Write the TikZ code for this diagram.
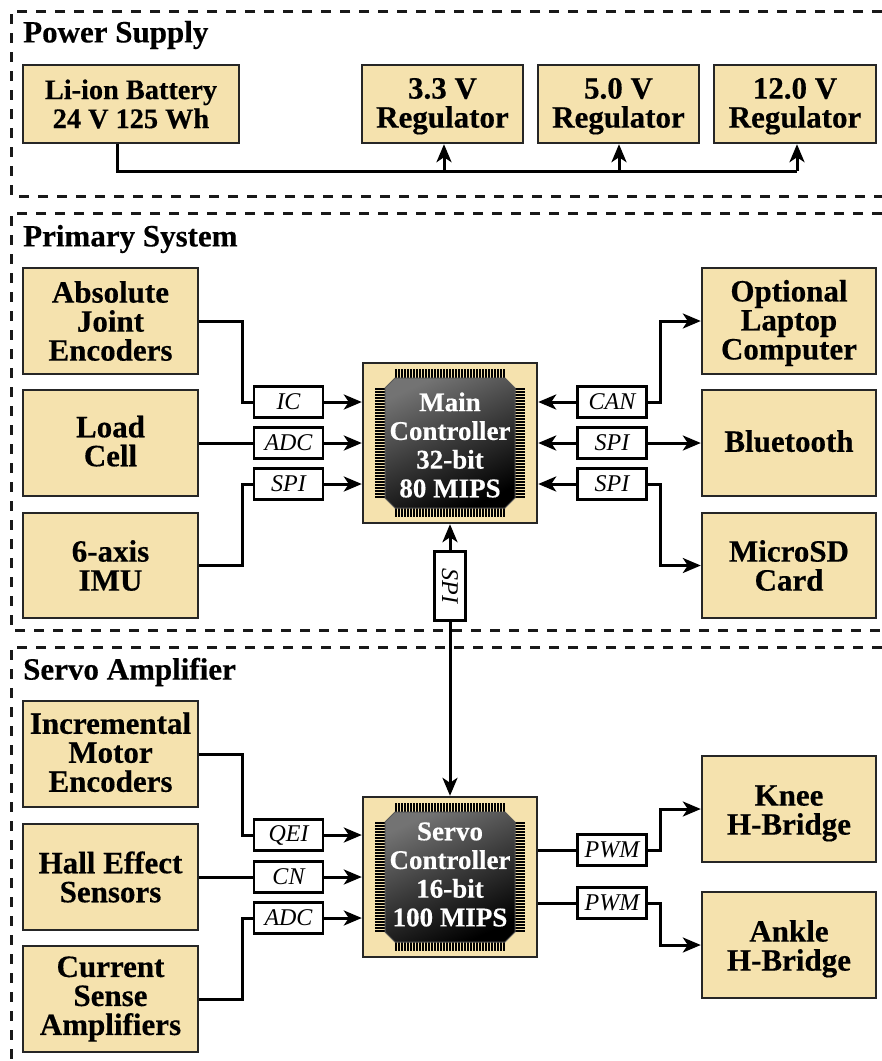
\documentclass[tikz,border=0pt]{standalone}
\usepackage{fontspec}
\setmainfont[BoldFeatures={FakeBold=0.4}]{Liberation Serif}
\usetikzlibrary{arrows.meta,calc}
\definecolor{tan}{HTML}{F5E2AE}
\definecolor{pin}{HTML}{A5A396}
\newcommand{\toppad}[1]{\rule{0pt}{#1pt}}
\newcommand{\botpad}{\rule[-4pt]{0pt}{4pt}}
\tikzset{
  x=1pt,y=-1pt,
  frameline/.style={line width=3pt,dash pattern=on 10pt off 9pt,black!90},
  title/.style={anchor=west,inner sep=0pt,font=\fontsize{31}{32}\selectfont\bfseries},
  box/.style={draw=black!85,line width=2.4pt,fill=tan,inner sep=0pt,align=center,font=\fontsize{31}{29}\selectfont\bfseries},
  batbox/.style={box,font=\fontsize{28.3}{29}\selectfont\bfseries},
  tag/.style={draw=black,line width=2.4pt,fill=white,inner sep=0pt,minimum width=69pt,minimum height=31pt,font=\fontsize{24}{26}\selectfont\itshape},
  wire/.style={line width=3pt,black,line join=miter},
  arr/.style={wire,-{Stealth[length=18pt,width=15pt,inset=5pt]}},
  biarr/.style={wire,{Stealth[length=18pt,width=15pt,inset=5pt]}-{Stealth[length=18pt,width=15pt,inset=5pt]}},
  chiptext/.style={align=center,inner sep=0pt,text=white,font=\fontsize{27}{28.7}\selectfont\bfseries},
  pinsh/.style={pin,line width=9.5pt,dash pattern=on 1.7pt off 1.3pt},
}
% #1 name, #2 centre x, #3 centre y, #4 text, #5 text centre y
\newcommand{\chipblock}[5]{%
  \node[box,minimum width=174pt,minimum height=160pt] (#1) at (#2,#3) {};
  \begin{scope}[shift={(#2,#3)}]
    \draw[pinsh] (-55,-69.5) -- (55,-69.5);
    \draw[pinsh] (-55,69.5) -- (55,69.5);
    \draw[pinsh] (-70,-55) -- (-70,55);
    \draw[pinsh] (70,-55) -- (70,55);
    \begin{scope}
      \clip (-55,-65) -- (55,-65) -- (65,-55) -- (65,55) -- (55,65) -- (-55,65) -- (-65,55) -- (-65,-55) -- cycle;
      \shade[shading=axis,top color=black!55,bottom color=black,middle color=black!78,shading angle=25] (-66,-66) rectangle (66,66);
    \end{scope}
    \draw[black!65,line width=1pt] (-55,-65) -- (55,-65) -- (65,-55) -- (65,55) -- (55,65) -- (-55,65) -- (-65,55) -- (-65,-55) -- cycle;
  \end{scope}
  \node[chiptext] (#1txt) at (#2,#5) {#4};
}
\begin{document}
\begin{tikzpicture}
\useasboundingbox (0,0) rectangle (882,1061);
\fill[white] (0,0) rectangle (882,1061);
% frames
\draw[frameline] (882,11) -- (11,11) -- (11,196) -- (882,196);
\draw[frameline] (882,213) -- (11,213) -- (11,630) -- (882,630);
\draw[frameline] (882,647) -- (11,647) -- (11,1061);
\node[title] (t1) at (23,35) {Power Supply};
\node[title] (t2) at (23,239) {Primary System};
\node[title] (t3) at (23,672) {Servo Amplifier};
% power supply
\node[batbox,minimum width=216pt,minimum height=78pt] (bat) at (131,104) {Li-ion Battery\\24 V 125 Wh};
\node[box,minimum width=161pt,minimum height=78pt] (r3) at (442.5,104) {\toppad{25}3.3 V\\Regulator};
\node[box,minimum width=161pt,minimum height=78pt] (r5) at (618.5,104) {\toppad{25}5.0 V\\Regulator};
\node[box,minimum width=162pt,minimum height=78pt] (r12) at (795,104) {\toppad{25}12.0 V\\Regulator};
\coordinate (busL) at (117,171);
\coordinate (bus3) at (444,171);
\coordinate (bus5) at (619,171);
\coordinate (bus12) at (797,171);
\draw[wire] (busL |- bat.south) -- (busL) -- (bus12);
\draw[arr] (bus3) -- (bus3 |- r3.south);
\draw[arr] (bus5) -- (bus5 |- r5.south);
\draw[arr] (bus12) -- (bus12 |- r12.south);
% primary
\node[box,minimum width=175pt,minimum height=106pt] (abs) at (110.5,321) {Absolute\\Joint\\Encoders};
\node[box,minimum width=175pt,minimum height=106pt] (load) at (110.5,443) {Load\\Cell\botpad};
\node[box,minimum width=175pt,minimum height=105pt] (imu) at (110.5,565.5) {6-axis\\IMU};
\node[box,minimum width=174pt,minimum height=106pt] (lap) at (789,321) {\toppad{25.5}Optional\\Laptop\\Computer};
\node[box,minimum width=174pt,minimum height=106pt] (blue) at (789,443) {Bluetooth\botpad};
\node[box,minimum width=174pt,minimum height=105pt] (sd) at (789,565.5) {MicroSD\\Card};
\chipblock{main}{450}{443}{Main\\Controller\\32-bit\\80 MIPS}{445}
\node[tag] (ic) at (288.5,402) {IC};
\node[tag] (adc) at (288.5,443) {ADC};
\node[tag] (spi) at (288.5,484) {SPI};
\node[tag] (can) at (612,402) {CAN};
\node[tag] (spib) at (612,443) {SPI};
\node[tag] (spic) at (612,484) {SPI};
\draw[wire] (abs.east) -- ++(43,0) |- (ic.west);
\draw[wire] (load.east) -- (adc.west);
\draw[wire] (imu.east) -- ++(43,0) |- (spi.west);
\draw[arr] (ic.east) -- (main.west |- ic);
\draw[arr] (adc.east) -- (main.west |- adc);
\draw[arr] (spi.east) -- (main.west |- spi);
\draw[arr] (can.west) -- (main.east |- can);
\draw[arr] (spib.west) -- (main.east |- spib);
\draw[arr] (spic.west) -- (main.east |- spic);
\draw[arr] (can.east) -- ++(13,0) |- (lap.west);
\draw[arr] (spib.east) -- (blue.west);
\draw[arr] (spic.east) -- ++(13,0) |- (sd.west);
% servo
\node[box,minimum width=175pt,minimum height=106pt] (inc) at (110.5,754) {Incremental\\Motor\\Encoders\botpad};
\node[box,minimum width=175pt,minimum height=106pt] (hall) at (110.5,877) {Hall Effect\\Sensors};
\node[box,minimum width=175pt,minimum height=106pt] (cur) at (110.5,999) {Current\\Sense\\Amplifiers};
\node[box,minimum width=174pt,minimum height=106pt] (knee) at (789,809) {\toppad{29}Knee\\H-Bridge};
\node[box,minimum width=174pt,minimum height=106pt] (ankle) at (789,945) {\toppad{29}Ankle\\H-Bridge};
\chipblock{servo}{450}{877}{Servo\\Controller\\16-bit\\100 MIPS}{874.5}
\node[tag] (qei) at (288.5,835) {QEI};
\node[tag] (cn) at (288.5,877) {CN};
\node[tag] (adcb) at (288.5,918) {ADC};
\node[tag] (pwma) at (612,850) {PWM};
\node[tag] (pwmb) at (612,903) {PWM};
\draw[wire] (inc.east) -- ++(43,0) |- (qei.west);
\draw[wire] (hall.east) -- (cn.west);
\draw[wire] (cur.east) -- ++(43,0) |- (adcb.west);
\draw[arr] (qei.east) -- (servo.west |- qei);
\draw[arr] (cn.east) -- (servo.west |- cn);
\draw[arr] (adcb.east) -- (servo.west |- adcb);
\draw[wire] (servo.east |- pwma) -- (pwma.west);
\draw[wire] (servo.east |- pwmb) -- (pwmb.west);
\draw[arr] (pwma.east) -- ++(13,0) |- (knee.west);
\draw[arr] (pwmb.east) -- ++(13,0) |- (ankle.west);
% vertical SPI
\draw[biarr] (main.south) -- (servo.north);
\node[tag,rotate=-90] (spiv) at (450,586) {SPI};
\end{tikzpicture}
\end{document}
